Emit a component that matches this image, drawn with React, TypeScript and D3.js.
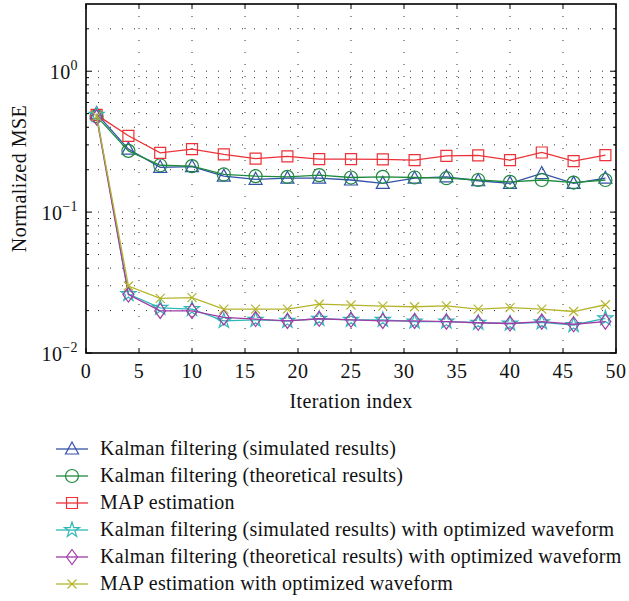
import { scaleLinear, scaleLog, line, symbol, symbolStar } from 'd3'

const iterations = [1, 4, 7, 10, 13, 16, 19, 22, 25, 28, 31, 34, 37, 40, 43, 46, 49]

const kalmanSim = [0.5, 0.28, 0.208, 0.21, 0.18, 0.171, 0.174, 0.174, 0.169, 0.16, 0.174, 0.178, 0.167, 0.16, 0.188, 0.16, 0.174]
const kalmanTheory = [0.48, 0.272, 0.215, 0.212, 0.185, 0.18, 0.178, 0.183, 0.176, 0.178, 0.176, 0.174, 0.169, 0.164, 0.169, 0.162, 0.169]
const mapEst = [0.49, 0.348, 0.263, 0.28, 0.257, 0.24, 0.249, 0.238, 0.238, 0.237, 0.234, 0.251, 0.253, 0.234, 0.265, 0.23, 0.254]
const kalmanSimOpt = [0.49, 0.0262, 0.0209, 0.0205, 0.0169, 0.0172, 0.0169, 0.0175, 0.0172, 0.0172, 0.0167, 0.0167, 0.0164, 0.0162, 0.0165, 0.0158, 0.0176]
const kalmanTheoryOpt = [0.47, 0.026, 0.0199, 0.0199, 0.0179, 0.0174, 0.0169, 0.0175, 0.0172, 0.0169, 0.0169, 0.0167, 0.0164, 0.0162, 0.0167, 0.016, 0.0167]
const mapEstOpt = [0.48, 0.0299, 0.0244, 0.0247, 0.0205, 0.0205, 0.0205, 0.0222, 0.0219, 0.0215, 0.0213, 0.0216, 0.0205, 0.021, 0.0205, 0.0197, 0.022]

const xTicks = [0, 5, 10, 15, 20, 25, 30, 35, 40, 45, 50]
const yMajor = [0.01, 0.1, 1]
const yMajorLabels = ['−2', '−1', '0']

type Marker = 'triangle' | 'circle' | 'square' | 'star' | 'diamond' | 'cross'

const series: { name: string; values: number[]; color: string; marker: Marker }[] = [
  { name: 'Kalman filtering (simulated results)', values: kalmanSim, color: '#3352a8', marker: 'triangle' },
  { name: 'Kalman filtering (theoretical results)', values: kalmanTheory, color: '#1f8a3e', marker: 'circle' },
  { name: 'MAP estimation', values: mapEst, color: '#ec3238', marker: 'square' },
  { name: 'Kalman filtering (simulated results) with optimized waveform', values: kalmanSimOpt, color: '#2fb8b8', marker: 'star' },
  { name: 'Kalman filtering (theoretical results) with optimized waveform', values: kalmanTheoryOpt, color: '#a03ca6', marker: 'diamond' },
  { name: 'MAP estimation with optimized waveform', values: mapEstOpt, color: '#b5b52c', marker: 'cross' },
]

const width = 629
const height = 601
const plot = { left: 86, right: 616, top: 4, bottom: 353 }
const font = '"Liberation Serif", "DejaVu Serif", serif'

const starPath = symbol(symbolStar, 70)() ?? ''

function MarkerShape({ kind, color }: { kind: Marker; color: string }) {
  const common = { fill: 'none', stroke: color, strokeWidth: 1.2 }
  switch (kind) {
    case 'triangle':
      return <path d="M0,-7L6.5,5H-6.5Z" {...common} />
    case 'circle':
      return <circle r={6.5} {...common} />
    case 'square':
      return <path d="M-5.5,-5.5h11v11h-11Z" {...common} />
    case 'star':
      return <path d={starPath} {...common} />
    case 'diamond':
      return <path d="M0,-7.5L5.5,0L0,7.5L-5.5,0Z" {...common} />
    case 'cross':
      return <path d="M-4.5,-4.5L4.5,4.5M-4.5,4.5L4.5,-4.5" {...common} />
  }
}

export default function App() {
  const xScale = scaleLinear().domain([0, 50]).range([plot.left, plot.right])
  const yScale = scaleLog().domain([0.01, 3]).range([plot.bottom, plot.top])

  const yMinor: number[] = []
  yMajor.forEach((base) => {
    for (let m = 2; m <= 9; m++) {
      const v = base * m
      if (v < 3) yMinor.push(v)
    }
  })

  const pathFor = line<number>()
    .x((_, i) => xScale(iterations[i]))
    .y((d) => yScale(d))

  const gridDash = '1 11'

  return (
    <svg
      width={width}
      height={height}
      style={{ position: 'absolute', left: 0, top: 0, background: '#fff' }}
      fontFamily={font}
    >
      <rect x={0} y={0} width={width} height={height} fill="#fff" />

      {/* grid */}
      <g stroke="#333" strokeWidth={1} strokeDasharray={gridDash}>
        {xTicks.slice(1, -1).map((t) => (
          <line key={`gx${t}`} x1={xScale(t)} x2={xScale(t)} y1={plot.top} y2={plot.bottom} />
        ))}
        {[...yMajor.slice(1), ...yMinor].map((t) => (
          <line key={`gy${t}`} x1={plot.left} x2={plot.right} y1={yScale(t)} y2={yScale(t)} />
        ))}
      </g>

      {/* ticks */}
      <g stroke="#000" strokeWidth={1}>
        {xTicks.map((t) => (
          <g key={`tx${t}`}>
            <line x1={xScale(t)} x2={xScale(t)} y1={plot.bottom} y2={plot.bottom - 5} />
            <line x1={xScale(t)} x2={xScale(t)} y1={plot.top} y2={plot.top + 5} />
          </g>
        ))}
        {yMajor.map((t) => (
          <g key={`ty${t}`}>
            <line x1={plot.left} x2={plot.left + 6} y1={yScale(t)} y2={yScale(t)} />
            <line x1={plot.right} x2={plot.right - 6} y1={yScale(t)} y2={yScale(t)} />
          </g>
        ))}
        {yMinor.map((t) => (
          <g key={`tm${t}`}>
            <line x1={plot.left} x2={plot.left + 3} y1={yScale(t)} y2={yScale(t)} />
            <line x1={plot.right} x2={plot.right - 3} y1={yScale(t)} y2={yScale(t)} />
          </g>
        ))}
      </g>

      {/* series */}
      {series.map((s) => (
        <g key={s.name}>
          <path d={pathFor(s.values) ?? ''} fill="none" stroke={s.color} strokeWidth={1.3} />
          {s.values.map((v, i) => (
            <g key={i} transform={`translate(${xScale(iterations[i])},${yScale(v)})`}>
              <MarkerShape kind={s.marker} color={s.color} />
            </g>
          ))}
        </g>
      ))}

      {/* box */}
      <rect
        x={plot.left}
        y={plot.top}
        width={plot.right - plot.left}
        height={plot.bottom - plot.top}
        fill="none"
        stroke="#000"
        strokeWidth={1.6}
      />

      {/* tick labels */}
      <g fontSize={20} fill="#111" letterSpacing={0.4}>
        {xTicks.map((t) => (
          <text key={`lx${t}`} x={xScale(t)} y={plot.bottom + 25} textAnchor="middle">
            {t}
          </text>
        ))}
        {yMajor.map((t, i) => (
          <text key={`ly${t}`} x={plot.left - 8} y={yScale(t) + 8} textAnchor="end">
            <tspan>10</tspan>
            <tspan dy={-9} fontSize={14}>
              {yMajorLabels[i]}
            </tspan>
          </text>
        ))}
      </g>

      <text
        x={(plot.left + plot.right) / 2}
        y={408}
        textAnchor="middle"
        fontSize={20}
        letterSpacing={0.4}
        fill="#111"
      >
        Iteration index
      </text>
      <text
        transform={`translate(26, ${(plot.top + plot.bottom) / 2}) rotate(-90)`}
        textAnchor="middle"
        fontSize={20}
        letterSpacing={0.5}
        fill="#111"
      >
        Normalized MSE
      </text>

      {/* legend */}
      {series.map((s, i) => {
        const y = 449 + i * 27
        return (
          <g key={`lg${s.name}`}>
            <line x1={56} x2={88} y1={y} y2={y} stroke={s.color} strokeWidth={1.3} />
            <g transform={`translate(72,${y})`}>
              <MarkerShape kind={s.marker} color={s.color} />
            </g>
            <text x={100} y={y + 6} fontSize={20} letterSpacing={0.28} fill="#111">
              {s.name}
            </text>
          </g>
        )
      })}
    </svg>
  )
}
